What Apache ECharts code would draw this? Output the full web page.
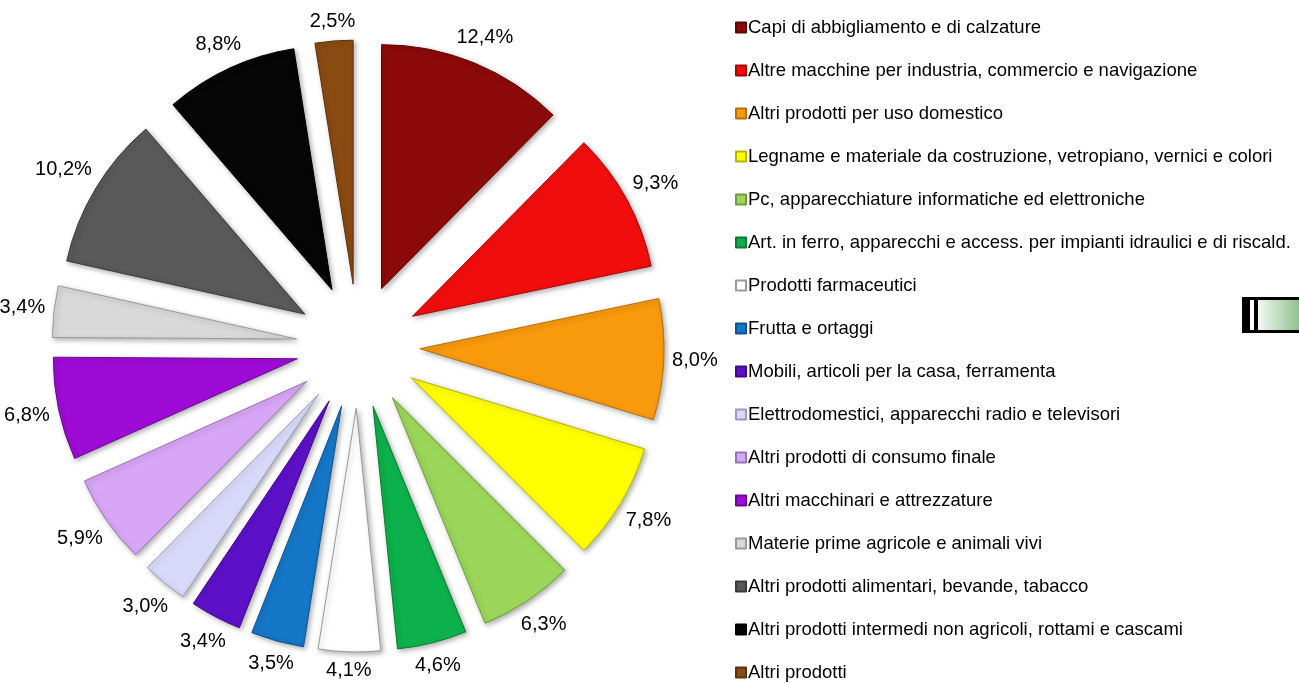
<!DOCTYPE html>
<html>
<head>
<meta charset="utf-8">
<title>Composizione percentuale</title>
<script src="https://cdn.jsdelivr.net/npm/echarts@6/dist/echarts.min.js"></script>
<style>
  html, body { margin: 0; padding: 0; background: #fff; }
  #chart { width: 1299px; height: 683px; }
</style>
</head>
<body>
<div id="chart"></div>
<script>
const categories = [
  'Capi di abbigliamento e di calzature',
  'Altre macchine per industria, commercio e navigazione',
  'Altri prodotti per uso domestico',
  'Legname e materiale da costruzione, vetropiano, vernici e colori',
  'Pc, apparecchiature informatiche ed elettroniche',
  'Art. in ferro, apparecchi e access. per impianti idraulici e di riscald.',
  'Prodotti farmaceutici',
  'Frutta e ortaggi',
  'Mobili, articoli per la casa, ferramenta',
  'Elettrodomestici, apparecchi radio e televisori',
  'Altri prodotti di consumo finale',
  'Altri macchinari e attrezzature',
  'Materie prime agricole e animali vivi',
  'Altri prodotti alimentari, bevande, tabacco',
  'Altri prodotti intermedi non agricoli, rottami e cascami',
  'Altri prodotti'
]
const shares = [12.4, 9.3, 8.0, 7.8, 6.3, 4.6, 4.1, 3.5, 3.4, 3.0, 5.9, 6.8, 3.4, 10.2, 8.8, 2.5]
const colors = [
  '#8c0909', '#f20d0d', '#f89a0c', '#ffff00', '#9bd65a', '#0db14b', '#ffffff', '#1577c8',
  '#5c10c8', '#d8d8f8', '#d7a6f6', '#9e0bd6', '#d9d9d9', '#595959', '#050505', '#8a4b12'
]
const borders = [
  '#5e0404', '#a80606', '#b86e06', '#b5b500', '#6e9e3c', '#087a32', '#9a9a9a', '#0d538e',
  '#3d0a8a', '#9a9abb', '#9a74b5', '#6c0794', '#9a9a9a', '#3a3a3a', '#000000', '#5c310a'
]

const CENTER = [358, 346]
const LABEL_GAP = 314   // labels sit just outside this radius, like Excel's "outside end"

const chart = echarts.init(document.getElementById('chart'))

const fmtPct = v => v.toFixed(1).replace('.', ',') + '%'

// slices, all pulled out from the centre
const pieData = categories.map((name, i) => ({
  name: name,
  value: shares[i],
  selected: true,
  itemStyle: { color: colors[i], borderColor: borders[i] }
}))

// invisible ring only used to place the percentage labels at each slice's mid angle
const labelData = shares.map(v => ({ value: v }))

const option = {
  animation: false,
  backgroundColor: '#ffffff',
  legend: {
    orient: 'vertical',
    left: 735,
    top: 18,
    height: 720,
    padding: 0,
    itemWidth: 10,
    itemHeight: 10,
    itemGap: 24,
    icon: 'rect',
    selectedMode: false,
    data: categories,
    textStyle: {
      fontFamily: 'Liberation Sans, Arial, sans-serif',
      fontSize: 18.5,
      color: '#000',
      padding: [0, 0, 0, -3]
    }
  },
  series: [
    {
      type: 'pie',
      center: CENTER,
      radius: 244,
      startAngle: 90,
      clockwise: true,
      selectedMode: 'multiple',
      selectedOffset: 62,
      emphasis: { scale: false },
      itemStyle: {
        borderWidth: 1,
        shadowBlur: 5,
        shadowOffsetX: 2,
        shadowOffsetY: 2,
        shadowColor: 'rgba(0,0,0,0.3)'
      },
      select: {
        itemStyle: { borderWidth: 1 }
      },
      label: { show: false },
      labelLine: { show: false },
      data: pieData
    },
    {
      type: 'pie',
      center: CENTER,
      radius: [322, 348],
      startAngle: 90,
      clockwise: true,
      silent: true,
      legendHoverLink: false,
      itemStyle: { color: 'rgba(0,0,0,0)' },
      emphasis: { disabled: true },
      label: {
        show: true,
        position: 'inside',
        fontFamily: 'Liberation Sans, Arial, sans-serif',
        fontSize: 20,
        color: '#000',
        formatter: p => fmtPct(p.value)
      },
      labelLine: { show: false },
      // push each label out along its angle so its nearest edge touches LABEL_GAP
      labelLayout: function (params) {
        const r = params.labelRect
        const mx = r.x + r.width / 2
        const my = r.y + r.height / 2
        const dx = mx - CENTER[0]
        const dy = my - CENTER[1]
        const d = Math.sqrt(dx * dx + dy * dy)
        const ux = dx / d
        const uy = dy / d
        const dist = LABEL_GAP + Math.abs(ux) * r.width / 2 + Math.abs(uy) * r.height / 2
        return {
          x: CENTER[0] + ux * dist,
          y: CENTER[1] + uy * dist,
          align: 'center',
          verticalAlign: 'middle'
        }
      },
      data: labelData
    }
  ],
  graphic: [
    {
      type: 'group',
      left: 1242,
      top: 297,
      children: [
        { type: 'rect', shape: { x: 0, y: 0, width: 60, height: 36 }, style: { fill: '#000' } },
        { type: 'rect', shape: { x: 8, y: 3, width: 4, height: 30 }, style: { fill: '#fff' } },
        {
          type: 'rect',
          shape: { x: 16, y: 3, width: 44, height: 30 },
          style: {
            fill: new echarts.graphic.LinearGradient(0, 0, 1, 0, [
              { offset: 0, color: '#f4f8f3' },
              { offset: 1, color: '#86bd86' }
            ])
          }
        }
      ]
    }
  ]
}

chart.setOption(option)
window.addEventListener('resize', () => chart.resize())
</script>
</body>
</html>
